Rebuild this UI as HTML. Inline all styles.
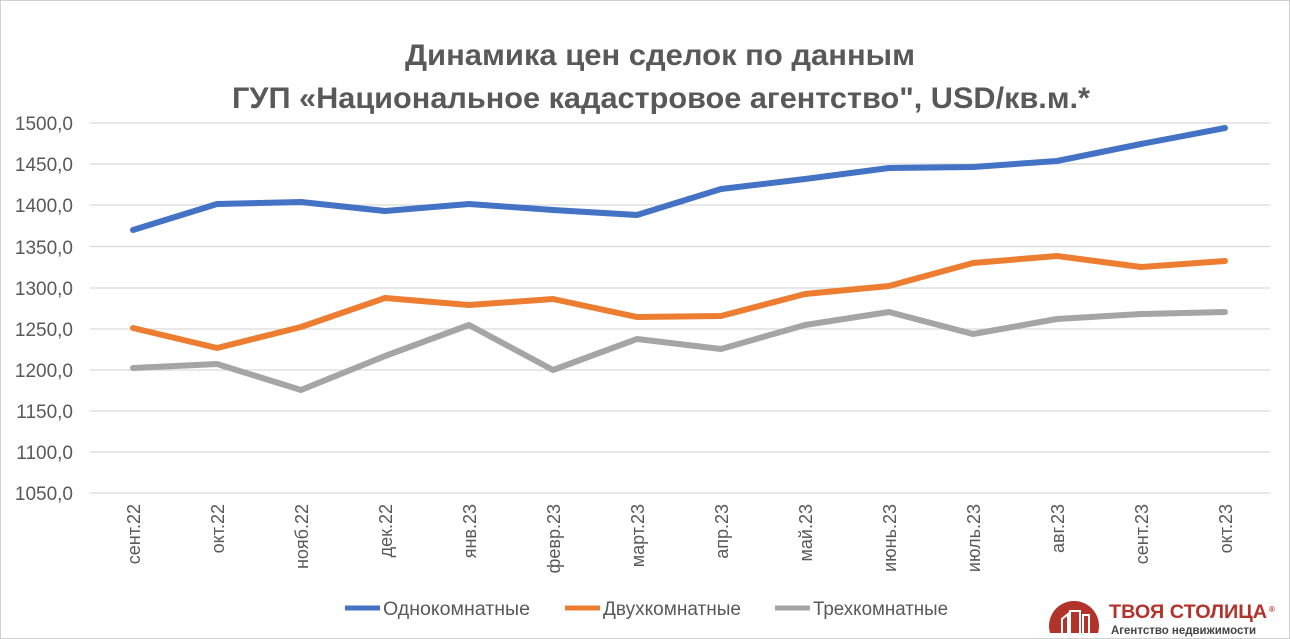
<!DOCTYPE html><html><head><meta charset="utf-8"><style>body{margin:0;background:#fff}svg{display:block}text{font-family:"Liberation Sans",sans-serif}</style></head><body>
<svg width="1290" height="639" viewBox="0 0 1290 639">
<rect x="0.5" y="0.5" width="1289" height="638" fill="#fff" stroke="#d0d0d0"/>
<text x="660" y="65" text-anchor="middle" font-size="30" font-weight="bold" fill="#595959" textLength="510" lengthAdjust="spacingAndGlyphs">Динамика цен сделок по данным</text>
<text x="661" y="108" text-anchor="middle" font-size="30" font-weight="bold" fill="#595959" textLength="858" lengthAdjust="spacingAndGlyphs">ГУП «Национальное кадастровое агентство", USD/кв.м.*</text>
<g stroke="#d9d9d9" stroke-width="1.3">
<line x1="90" x2="1270" y1="123" y2="123"/><line x1="90" x2="1270" y1="164" y2="164"/><line x1="90" x2="1270" y1="205" y2="205"/><line x1="90" x2="1270" y1="246.5" y2="246.5"/><line x1="90" x2="1270" y1="288" y2="288"/><line x1="90" x2="1270" y1="329" y2="329"/><line x1="90" x2="1270" y1="370" y2="370"/><line x1="90" x2="1270" y1="411" y2="411"/><line x1="90" x2="1270" y1="452" y2="452"/><line x1="90" x2="1270" y1="493" y2="493"/>
</g>
<g font-size="19" fill="#595959" text-anchor="end">
<text x="73" y="130">1500,0</text><text x="73" y="171">1450,0</text><text x="73" y="212">1400,0</text><text x="73" y="254">1350,0</text><text x="73" y="295">1300,0</text><text x="73" y="336">1250,0</text><text x="73" y="377">1200,0</text><text x="73" y="418">1150,0</text><text x="73" y="459">1100,0</text><text x="73" y="500">1050,0</text>
</g>
<g font-size="18" fill="#595959" text-anchor="end">
<text transform="translate(140,504) rotate(-90)">сент.22</text>
<text transform="translate(224,504) rotate(-90)">окт.22</text>
<text transform="translate(308,504) rotate(-90)">нояб.22</text>
<text transform="translate(392,504) rotate(-90)">дек.22</text>
<text transform="translate(476,504) rotate(-90)">янв.23</text>
<text transform="translate(560,504) rotate(-90)">февр.23</text>
<text transform="translate(644,504) rotate(-90)">март.23</text>
<text transform="translate(728,504) rotate(-90)">апр.23</text>
<text transform="translate(812,504) rotate(-90)">май.23</text>
<text transform="translate(896,504) rotate(-90)">июнь.23</text>
<text transform="translate(980,504) rotate(-90)">июль.23</text>
<text transform="translate(1064,504) rotate(-90)">авг.23</text>
<text transform="translate(1148,504) rotate(-90)">сент.23</text>
<text transform="translate(1232,504) rotate(-90)">окт.23</text>
</g>
<g fill="none" stroke-width="6" stroke-linejoin="round" stroke-linecap="round">
<polyline stroke="#a5a5a5" points="133,368 217,364 301,390 385,356 469,325 553,370 637,339 721,349 805,325 889,312 973,334 1057,319 1141,314 1225,312"/>
<polyline stroke="#ed7d31" points="133,328 217,348 301,327 385,298 469,305 553,299 637,317 721,316 805,294 889,286 973,263 1057,256 1141,267 1225,261"/>
<polyline stroke="#4472c4" points="133,230 217,204 301,202 385,211 469,204 553,210 637,215 721,189 805,179 889,168 973,167 1057,161 1141,144 1225,128"/>
</g>
<g font-size="19" fill="#595959">
<line x1="345" x2="380" y1="608" y2="608" stroke="#4472c4" stroke-width="5"/><text x="383" y="615" textLength="147" lengthAdjust="spacingAndGlyphs">Однокомнатные</text>
<line x1="565" x2="600" y1="608" y2="608" stroke="#ed7d31" stroke-width="5"/><text x="603" y="615" textLength="138" lengthAdjust="spacingAndGlyphs">Двухкомнатные</text>
<line x1="775" x2="810" y1="608" y2="608" stroke="#a5a5a5" stroke-width="5"/><text x="813" y="615" textLength="135" lengthAdjust="spacingAndGlyphs">Трехкомнатные</text>
</g>
<path d="M1050,633 A25,25 0 1 1 1098,633 Z" fill="#b3322a"/>
<g stroke="#fff" stroke-width="2" fill="none"><path d="M1062,633 v-14 l6,-5 v19"/><path d="M1070,633 v-22 h10 v22"/><path d="M1083,633 v-18 h6 v18"/></g>
<text x="1109" y="618" font-size="19" font-weight="bold" fill="#b3322a" textLength="158" lengthAdjust="spacingAndGlyphs">ТВОЯ СТОЛИЦА</text>
<text x="1269" y="612" font-size="8" font-weight="bold" fill="#b3322a">®</text>
<text x="1111" y="634" font-size="11.5" font-weight="bold" fill="#444" textLength="145" lengthAdjust="spacingAndGlyphs">Агентство недвижимости</text>
</svg></body></html>
